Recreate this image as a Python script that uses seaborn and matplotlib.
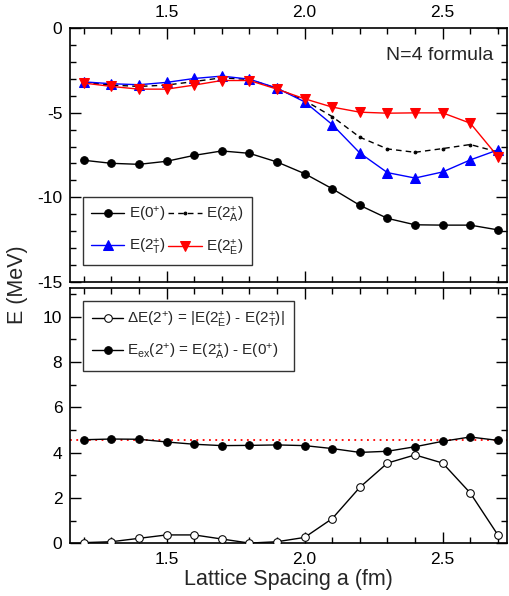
import matplotlib
matplotlib.use("Agg")
import matplotlib.pyplot as plt
import seaborn as sns
import pandas as pd
from matplotlib.ticker import MultipleLocator

sns.set_style("ticks")
plt.rcParams['font.family'] = ['Liberation Sans', 'DejaVu Sans']
plt.rcParams['mathtext.fontset'] = 'custom'
plt.rcParams['mathtext.rm'] = 'Liberation Sans'
plt.rcParams['mathtext.it'] = 'Liberation Sans'

# ---- data ----
a = [1.2, 1.3, 1.4, 1.5, 1.6, 1.7, 1.8, 1.9, 2.0, 2.1, 2.2, 2.3, 2.4, 2.5, 2.6, 2.7]
E0 = [-7.81, -7.99, -8.05, -7.87, -7.52, -7.26, -7.40, -7.91, -8.60, -9.49,
      -10.47, -11.24, -11.62, -11.64, -11.64, -11.92]
E2A = [-3.21, -3.37, -3.45, -3.37, -3.16, -2.94, -3.04, -3.57, -4.28, -5.23,
       -6.45, -7.14, -7.34, -7.12, -6.88, -7.32]
E2T = [-3.18, -3.29, -3.35, -3.21, -2.98, -2.84, -3.02, -3.55, -4.36, -5.70,
       -7.38, -8.54, -8.86, -8.50, -7.79, -7.20]
E2E = [-3.25, -3.45, -3.61, -3.61, -3.37, -3.10, -3.10, -3.61, -4.18, -4.67,
       -4.97, -5.03, -5.01, -5.01, -5.62, -7.59]
dE = [0.03, 0.07, 0.22, 0.37, 0.37, 0.19, 0.01, 0.07, 0.26, 1.09,
      2.47, 3.54, 3.90, 3.54, 2.22, 0.37]
Eex = [4.57, 4.60, 4.59, 4.47, 4.37, 4.31, 4.32, 4.34, 4.31, 4.18,
       4.01, 4.06, 4.26, 4.50, 4.69, 4.54]
ref_level = 4.54

top_xticks = [1.5, 2.0, 2.5]
xtick_labels = ['1.5', '2.0', '2.5']
top_yticks = [0, -5, -10, -15]
top_ylabels = ['0', '-5', '-10', '-15']
bot_yticks = [0, 2, 4, 6, 8, 10]

df = pd.DataFrame({'a': a, 'E0': E0, 'E2A': E2A, 'E2T': E2T, 'E2E': E2E,
                   'dE': dE, 'Eex': Eex})

fig = plt.figure(figsize=(5.09, 5.96), dpi=100)
ax1 = fig.add_axes([0.1375, 0.5268, 0.8585, 0.4262])
ax2 = fig.add_axes([0.1375, 0.0884, 0.8585, 0.4279])

lw = 1.0
sns.lineplot(data=df, x='a', y='E0', ax=ax1, color='black', marker='o', markersize=5.5,
             markeredgecolor='black', linewidth=lw, label=r'E(0$^{+}$)', sort=False)
sns.lineplot(data=df, x='a', y='E2A', ax=ax1, color='black', marker='o', markersize=2,
             markeredgecolor='black', linewidth=lw, linestyle=(0, (4, 3)),
             label=r'E(2$^{+}_{A}$)', sort=False)
sns.lineplot(data=df, x='a', y='E2T', ax=ax1, color='#0000ff', marker='^', markersize=6.5,
             markeredgecolor='#0000ff', linewidth=lw, label=r'E(2$^{+}_{T}$)', sort=False)
sns.lineplot(data=df, x='a', y='E2E', ax=ax1, color='#ff0000', marker='v', markersize=6.5,
             markeredgecolor='#ff0000', linewidth=lw, label=r'E(2$^{+}_{E}$)', sort=False)

ax2.axhline(ref_level, color='#ff0000', linestyle=(0, (1, 2.5)), linewidth=1.3, zorder=1)
sns.lineplot(data=df, x='a', y='Eex', ax=ax2, color='black', marker='o', markersize=5.5,
             markeredgecolor='black', linewidth=lw,
             label=r'E$_{\rm ex}$(2$^{+}$) = E(2$^{+}_{A}$) - E(0$^{+}$)', sort=False, zorder=3)
sns.lineplot(data=df, x='a', y='dE', ax=ax2, color='black', marker='o', markersize=5.5,
             markerfacecolor='white', markeredgecolor='black', linewidth=lw,
             label=r'$\Delta$E(2$^{+}$) = |E(2$^{+}_{E}$) - E(2$^{+}_{T}$)|', sort=False, zorder=3)

for ax in (ax1, ax2):
    ax.set_xlim(1.15, 2.733)
    ax.set_xlabel('')
    ax.set_ylabel('')
    ax.xaxis.set_major_locator(MultipleLocator(0.5))
    ax.xaxis.set_minor_locator(MultipleLocator(0.1))
    ax.tick_params(which='both', direction='in', top=True, right=True, width=1.0,
                   labelsize=12.5, colors='black', pad=5.5)
    ax.tick_params(which='major', length=8)
    ax.tick_params(which='minor', length=4)
    for s in ax.spines.values():
        s.set_linewidth(1.2)
        s.set_color('black')

ax1.set_xticks(top_xticks)
ax1.set_xticklabels(xtick_labels)
ax1.tick_params(axis='x', labelbottom=False, labeltop=True)
ax1.set_ylim(-15, 0)
ax1.set_yticks(top_yticks)
ax1.set_yticklabels(top_ylabels)
ax1.yaxis.set_minor_locator(MultipleLocator(1))
ax1.text(0.97, 0.89, 'N=4 formula', transform=ax1.transAxes, ha='right', va='center',
         fontsize=14)

ax2.set_xticks(top_xticks)
ax2.set_xticklabels(xtick_labels)
ax2.tick_params(axis='x', pad=6.5)
ax2.set_ylim(0, 11.25)
ax2.set_yticks(bot_yticks)
ax2.yaxis.set_minor_locator(MultipleLocator(1))
ax2.set_xlabel('Lattice Spacing a (fm)', fontsize=15.5, labelpad=1)

fig.text(0.034, 0.522, 'E (MeV)', rotation=90, ha='center', va='center', fontsize=15.5)

h, l = ax1.get_legend_handles_labels()
order = [0, 2, 1, 3]
leg1 = ax1.legend([h[i] for i in order], [l[i] for i in order], ncol=2, loc='upper left',
                  bbox_to_anchor=(0.03, 0.335),
                  fontsize=11, frameon=True, fancybox=False, edgecolor='black',
                  handlelength=2.2, handletextpad=0.3, columnspacing=0.15,
                  borderpad=0.5, labelspacing=0.85, borderaxespad=0)
leg1.get_frame().set_linewidth(1.0)

h, l = ax2.get_legend_handles_labels()
order = [1, 0]
leg2 = ax2.legend([h[i] for i in order], [l[i] for i in order], loc='upper left',
                  bbox_to_anchor=(0.03, 0.95), fontsize=11, frameon=True, fancybox=False,
                  edgecolor='black', handlelength=2.0, handletextpad=0.3,
                  borderpad=0.6, labelspacing=0.75, borderaxespad=0)
leg2.get_frame().set_linewidth(1.0)

fig.savefig('out.png', dpi=100)
